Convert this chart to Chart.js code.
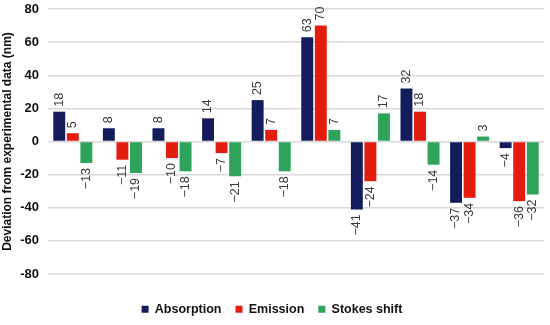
<!DOCTYPE html>
<html>
<head>
<meta charset="utf-8">
<script src="https://cdn.jsdelivr.net/npm/chart.js@4"></script>
<style>
  html, body { margin: 0; padding: 0; background: #fff; }
  #wrap { width: 550px; height: 325px; }
</style>
</head>
<body>
<div id="wrap"><canvas id="chart" width="550" height="325"></canvas></div>
<script>
const categories = ['ne1', 'ne2', 'ne4', 'ne5', 'ne6', 'an1', 'an2', 'an4', 'an5', 'an6'];
const absorption = [18, 8, 8, 14, 25, 63, -41, 32, -37, -4];
const emission = [5, -11, -10, -7, 7, 70, -24, 18, -34, -36];
const stokesShift = [-13, -19, -18, -21, -18, 7, 17, -14, 3, -32];
const yTicks = [-80, -60, -40, -20, 0, 20, 40, 60, 80];

const FONT = '"Liberation Sans", Arial, sans-serif';

// vertical value labels at the bar ends
const barLabels = {
    id: 'barLabels',
    afterDatasetsDraw(chart) {
        const ctx = chart.ctx;
        ctx.save();
        ctx.font = '12.5px ' + FONT;
        ctx.fillStyle = '#3a3a3a';
        ctx.textBaseline = 'middle';
        chart.data.datasets.forEach((ds, i) => {
            chart.getDatasetMeta(i).data.forEach((bar, j) => {
                const v = ds.data[j];
                ctx.save();
                ctx.translate(bar.x, v >= 0 ? bar.y - 5 : bar.y + 5);
                ctx.rotate(-Math.PI / 2);
                ctx.textAlign = v >= 0 ? 'left' : 'right';
                ctx.fillText(v < 0 ? '\u2212' + Math.abs(v) : String(v), 0, 0);
                ctx.restore();
            });
        });
        ctx.restore();
    }
};

// fixed legend height so the legend row sits low, like the original
const legendHeight = {
    id: 'legendHeight',
    beforeInit(chart) {
        const fit = chart.legend.fit;
        chart.legend.fit = function () {
            fit.bind(chart.legend)();
            this.height = 36;
        };
    }
};

new Chart(document.getElementById('chart').getContext('2d'), {
    type: 'bar',
    data: {
        labels: categories,
        datasets: [
            { label: 'Absorption', data: absorption, backgroundColor: '#141c5c' },
            { label: 'Emission', data: emission, backgroundColor: '#e41c0d' },
            { label: 'Stokes shift', data: stokesShift, backgroundColor: '#2ea35c' }
        ]
    },
    options: {
        responsive: false,
        animation: false,
        layout: { padding: { top: 0, right: 6, left: 0, bottom: 0 } },
        datasets: { bar: { categoryPercentage: 0.82, barPercentage: 0.88 } },
        scales: {
            x: {
                afterFit: scale => { scale.height = 15; },
                grid: { display: false },
                border: { display: false },
                ticks: {
                    color: '#111',
                    font: { family: FONT, size: 12, weight: 'bold' },
                    padding: 8
                }
            },
            y: {
                min: -80,
                max: 80,
                afterBuildTicks: scale => { scale.ticks = yTicks.map(v => ({ value: v })); },
                afterFit: scale => { scale.width = 48; scale.paddingTop = 9; scale.paddingBottom = 0; },
                grid: { color: '#d9d9d9', lineWidth: 1.5, drawTicks: false },
                border: { display: false },
                ticks: {
                    color: '#111',
                    padding: 9,
                    font: { family: FONT, size: 13, weight: 'bold' }
                },
                title: {
                    display: true,
                    text: 'Deviation from experimental data (nm)',
                    color: '#111',
                    padding: 0,
                    font: { family: FONT, size: 12, weight: 'bold' }
                }
            }
        },
        plugins: {
            legend: {
                position: 'bottom',
                labels: {
                    boxWidth: 7,
                    boxHeight: 7,
                    padding: 14,
                    color: '#111',
                    font: { family: FONT, size: 12.5, weight: 'bold' }
                }
            },
            tooltip: { enabled: false }
        }
    },
    plugins: [barLabels, legendHeight]
});
</script>
</body>
</html>
